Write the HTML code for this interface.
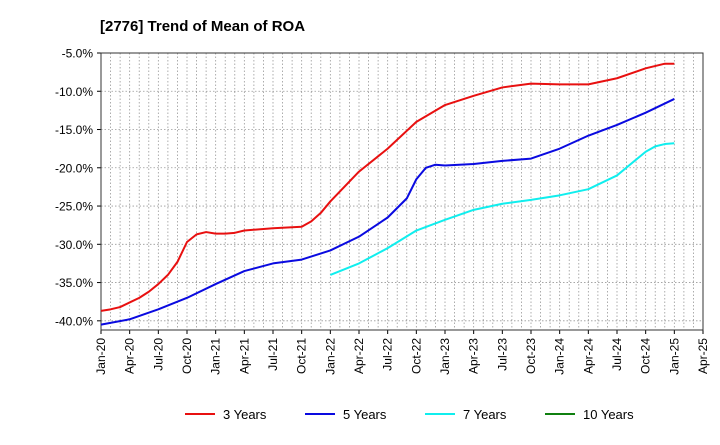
<!DOCTYPE html>
<html><head><meta charset="utf-8"><style>
body{margin:0;background:#fff;font-family:"Liberation Sans",sans-serif}
svg text{font-family:"Liberation Sans",sans-serif}
</style></head><body>
<svg id="c" width="720" height="440" xmlns="http://www.w3.org/2000/svg">
<text x="100" y="31" font-size="15" font-weight="bold" fill="#000">[2776]  Trend of Mean of ROA</text>
</svg>
<script>
const xTicks=["Jan-20","Apr-20","Jul-20","Oct-20","Jan-21","Apr-21","Jul-21","Oct-21","Jan-22","Apr-22","Jul-22","Oct-22","Jan-23","Apr-23","Jul-23","Oct-23","Jan-24","Apr-24","Jul-24","Oct-24","Jan-25","Apr-25"];
const yTicks=[-5,-10,-15,-20,-25,-30,-35,-40];
const red3Months=[0,1,2,3,4,5,6,7,8,9,10,11,12,13,14,15,18,21,22,23,24,27,30,33,36,39,42,45,48,51,54,57,59,60];
const red3=[-38.7,-38.5,-38.2,-37.6,-37,-36.2,-35.2,-34,-32.3,-29.7,-28.7,-28.4,-28.6,-28.6,-28.5,-28.2,-27.9,-27.7,-27,-25.9,-24.4,-20.5,-17.5,-14,-11.8,-10.6,-9.5,-9.0,-9.1,-9.1,-8.3,-7.0,-6.4,-6.4];
const blue5Months=[0,3,6,9,12,15,18,21,24,27,30,32,33,34,35,36,39,42,45,48,51,54,57,60];
const blue5=[-40.5,-39.8,-38.5,-37,-35.2,-33.5,-32.5,-32,-30.8,-29,-26.5,-24,-21.5,-20,-19.6,-19.7,-19.5,-19.1,-18.8,-17.5,-15.8,-14.4,-12.8,-11];
const cyan7Months=[24,27,30,33,36,39,42,45,48,51,54,57,58,59,60];
const cyan7=[-34,-32.5,-30.5,-28.2,-26.8,-25.5,-24.7,-24.2,-23.6,-22.8,-21,-17.9,-17.2,-16.9,-16.8];
const L=101,R=703,T=53,B=330,yTop=-5,yBot=-41.2,nM=63;
const X=m=>L+(R-L)*m/nM, Y=v=>T+(B-T)*(yTop-v)/(yTop-yBot);
const s=document.getElementById('c'),NS='http://www.w3.org/2000/svg';
function el(t,a,p){const e=document.createElementNS(NS,t);for(const k in a)e.setAttribute(k,a[k]);(p||s).appendChild(e);return e;}
const g=el('g',{});


for(let m=1;m<nM;m++){el('line',{x1:X(m),x2:X(m),y1:T,y2:B,stroke:'#999','stroke-width':0.8,'stroke-dasharray':'1.5,2'},g);}
yTicks.forEach(v=>{const y=Y(v);
 if(v!==-5)el('line',{x1:L,x2:R,y1:y,y2:y,stroke:'#999','stroke-width':0.8,'stroke-dasharray':'1.5,2'},g);
 el('line',{x1:L-4,x2:L,y1:y,y2:y,stroke:'#000'});
 const t=el('text',{x:L-8,y:y+4.5,'font-size':12,'text-anchor':'end',fill:'#000'});
 
 
 t.textContent=v.toFixed(1)+'%';});
xTicks.forEach((lab,i)=>{const x=X(i*3);
 el('line',{x1:x,x2:x,y1:B,y2:B+4,stroke:'#000'});
 const t=el('text',{x:0,y:0,'font-size':12,'text-anchor':'end',fill:'#000',transform:`translate(${x+4},${B+8}) rotate(-90)`});
 
 
 t.textContent=lab;});
const fr=el('rect',{x:L,y:T,width:R-L,height:B-T,fill:'none',stroke:'#333','stroke-width':1});


function line(ms,vs,c,n){const p=el('polyline',{points:ms.map((m,i)=>X(m)+','+Y(vs[i])).join(' '),fill:'none',stroke:c,'stroke-width':2,'stroke-linejoin':'round'});
 
 }
line(red3Months,red3,'#e81010','line-3-years');
line(blue5Months,blue5,'#0a0ae0','line-5-years');
line(cyan7Months,cyan7,'#10eeee','line-7-years');
const leg=[['3 Years','#e81010',185],['5 Years','#0a0ae0',305],['7 Years','#10eeee',425],['10 Years','#108010',545]];
leg.forEach(([n,c,x])=>{const gg=el('g',{});
 
 
 el('line',{x1:x,x2:x+30,y1:414,y2:414,stroke:c,'stroke-width':2},gg);
 const t=el('text',{x:x+38,y:419,'font-size':13,fill:'#000'},gg);t.textContent=n;});
</script>
</body></html>
